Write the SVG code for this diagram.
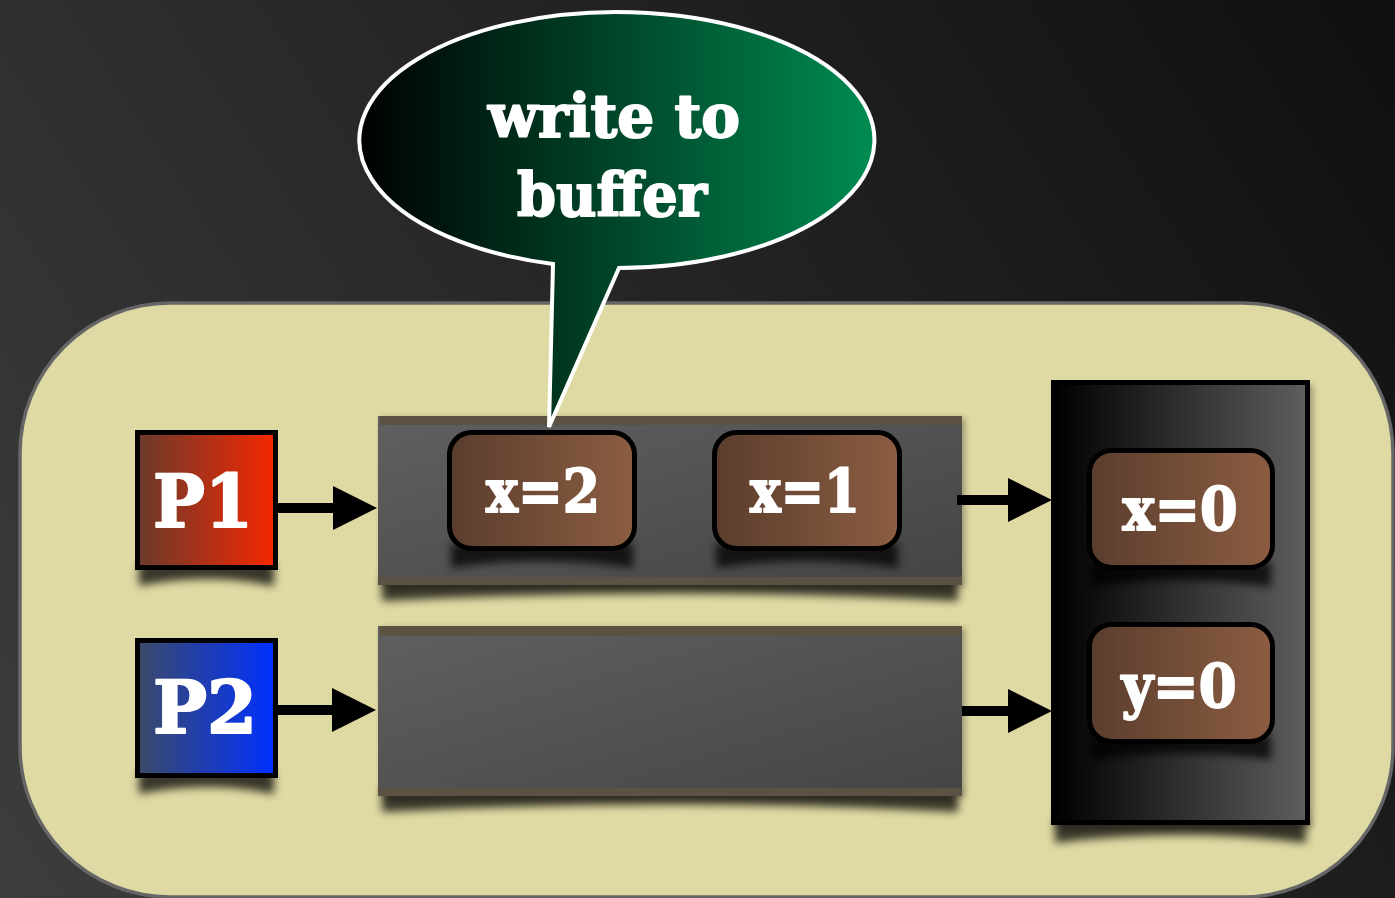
<svg xmlns="http://www.w3.org/2000/svg" width="1395" height="898" viewBox="0 0 1395 898">
  <defs>
    <linearGradient id="bg" x1="0" y1="898" x2="1395" y2="0" gradientUnits="userSpaceOnUse">
      <stop offset="0" stop-color="#3d3d3d"/>
      <stop offset="1" stop-color="#0f0f0f"/>
    </linearGradient>
    <linearGradient id="bubbleFill" x1="0" y1="0" x2="1" y2="0">
      <stop offset="0" stop-color="#000000"/>
      <stop offset="1" stop-color="#008c52"/>
    </linearGradient>
    <linearGradient id="p1Fill" x1="0" y1="0" x2="1" y2="0">
      <stop offset="0" stop-color="#6a3a2c"/>
      <stop offset="1" stop-color="#f52800"/>
    </linearGradient>
    <linearGradient id="p2Fill" x1="0" y1="0" x2="1" y2="0">
      <stop offset="0" stop-color="#3c4a68"/>
      <stop offset="1" stop-color="#0030ff"/>
    </linearGradient>
    <linearGradient id="cellFill" x1="0" y1="0" x2="1" y2="0">
      <stop offset="0" stop-color="#5a3d2d"/>
      <stop offset="1" stop-color="#8c5d42"/>
    </linearGradient>
    <linearGradient id="bufFill" x1="0" y1="0" x2="1" y2="1">
      <stop offset="0" stop-color="#606060"/>
      <stop offset="1" stop-color="#444444"/>
    </linearGradient>
    <linearGradient id="memFill" x1="0" y1="0" x2="1" y2="0">
      <stop offset="0" stop-color="#000000"/>
      <stop offset="1" stop-color="#5e5e5e"/>
    </linearGradient>
    <filter id="curl" x="-20%" y="-100%" width="140%" height="300%">
      <feGaussianBlur stdDeviation="4"/>
    </filter>
    <filter id="haze" x="-10%" y="-10%" width="120%" height="120%">
      <feGaussianBlur stdDeviation="3"/>
    </filter>
    <marker id="head" viewBox="0 0 44 44" markerUnits="userSpaceOnUse" markerWidth="44" markerHeight="44" refX="24" refY="22" orient="auto">
      <path d="M0,0 L44,22 L0,44 Z" fill="#000"/>
    </marker>
    <style>
      .label { font-family: "DejaVu Serif", "Liberation Serif", serif; font-weight: bold; fill: #ffffff; stroke: #ffffff; stroke-width: 2; stroke-linejoin: round; text-anchor: middle; }
      .shadow { fill: #000; opacity: 0.75; filter: url(#curl); }
      .edge { fill: #000; opacity: 0.3; filter: url(#haze); }
      .cell { fill: url(#cellFill); stroke: #000; stroke-width: 5; }
      .strip { fill: #5b5243; }
      .arrow { stroke: #000; stroke-width: 10; fill: none; marker-end: url(#head); }
    </style>
  </defs>

  <!-- backdrop -->
  <rect x="0" y="0" width="1395" height="898" fill="url(#bg)"/>

  <!-- machine outline -->
  <g id="machine">
    <rect x="20" y="303" width="1373" height="594" rx="150" ry="150" fill="#dfd9a3" stroke="#666666" stroke-width="3.5"/>
  </g>

  <!-- processor P1 -->
  <g id="p1">
    <path class="shadow" d="M139 562 H274 V586 Q206.5 572 139 586 Z"/>
    <rect x="137.5" y="432.5" width="138" height="135" fill="url(#p1Fill)" stroke="#000" stroke-width="5"/>
    <text class="label" x="203" y="527" font-size="72" textLength="100" lengthAdjust="spacingAndGlyphs">P1</text>
  </g>

  <!-- processor P2 -->
  <g id="p2">
    <path class="shadow" d="M139 770 H274 V794 Q206.5 780 139 794 Z"/>
    <rect x="137.5" y="640.5" width="138" height="135" fill="url(#p2Fill)" stroke="#000" stroke-width="5"/>
    <text class="label" x="205" y="733" font-size="72" textLength="104" lengthAdjust="spacingAndGlyphs">P2</text>
  </g>

  <!-- store buffer of P1 -->
  <g id="buffer1">
    <rect class="edge" x="381" y="418" width="584" height="169"/>
    <path class="shadow" d="M382 577 H958 V601 Q670 586 382 601 Z"/>
    <rect x="378" y="416" width="584" height="169" fill="url(#bufFill)"/>
    <rect class="strip" x="380" y="416" width="582" height="9"/>
    <rect class="strip" x="378" y="577" width="584" height="8"/>
  </g>

  <!-- store buffer of P2 -->
  <g id="buffer2">
    <rect class="edge" x="381" y="628" width="584" height="170"/>
    <path class="shadow" d="M382 788 H958 V812 Q670 797 382 812 Z"/>
    <rect x="378" y="626" width="584" height="170" fill="url(#bufFill)"/>
    <rect class="strip" x="380" y="626" width="582" height="10"/>
    <rect class="strip" x="378" y="788" width="584" height="8"/>
  </g>

  <!-- buffered writes -->
  <g id="write-x2">
    <path class="shadow" d="M451 543 H633 V568 Q542 554 451 568 Z"/>
    <rect class="cell" x="449.5" y="432.5" width="185" height="116" rx="22" ry="22"/>
    <text class="label" x="543" y="512" font-size="60" textLength="114" lengthAdjust="spacingAndGlyphs">x=2</text>
  </g>
  <g id="write-x1">
    <path class="shadow" d="M716 543 H898 V568 Q807 554 716 568 Z"/>
    <rect class="cell" x="714.5" y="432.5" width="185" height="116" rx="22" ry="22"/>
    <text class="label" x="805" y="512" font-size="60" textLength="110" lengthAdjust="spacingAndGlyphs">x=1</text>
  </g>

  <!-- shared memory -->
  <g id="memory">
    <rect class="edge" x="1055" y="385" width="258" height="443"/>
    <path class="shadow" d="M1055 817 H1306 V843 Q1180 827 1055 843 Z"/>
    <rect x="1053.5" y="382.5" width="254" height="440" fill="url(#memFill)" stroke="#000" stroke-width="5"/>
  </g>
  <g id="mem-x0">
    <path class="shadow" d="M1091 562 H1271 V587 Q1181 573 1091 587 Z"/>
    <rect class="cell" x="1089.5" y="450.5" width="183" height="117" rx="22" ry="22"/>
    <text class="label" x="1180" y="530" font-size="60" textLength="115" lengthAdjust="spacingAndGlyphs">x=0</text>
  </g>
  <g id="mem-y0">
    <path class="shadow" d="M1091 735 H1271 V760 Q1181 746 1091 760 Z"/>
    <rect class="cell" x="1089.5" y="624.5" width="183" height="117" rx="22" ry="22"/>
    <text class="label" x="1179" y="707" font-size="60" textLength="115" lengthAdjust="spacingAndGlyphs">y=0</text>
  </g>

  <!-- connectors -->
  <g id="connectors">
    <path class="arrow" d="M278 508 H357"/>
    <path class="arrow" d="M278 710 H356"/>
    <path class="arrow" d="M957 500 H1032"/>
    <path class="arrow" d="M962 711 H1032"/>
  </g>

  <!-- speech bubble -->
  <g id="bubble">
    <path d="M553 264 L549 427 L619 268 A257.5 128 0 1 0 553 264 Z" fill="url(#bubbleFill)" stroke="#ffffff" stroke-width="4" stroke-linejoin="miter"/>
    <text class="label" x="614" y="137" font-size="60" textLength="252" lengthAdjust="spacingAndGlyphs">write to</text>
    <text class="label" x="612" y="216" font-size="60" textLength="190" lengthAdjust="spacingAndGlyphs">buffer</text>
  </g>
</svg>
